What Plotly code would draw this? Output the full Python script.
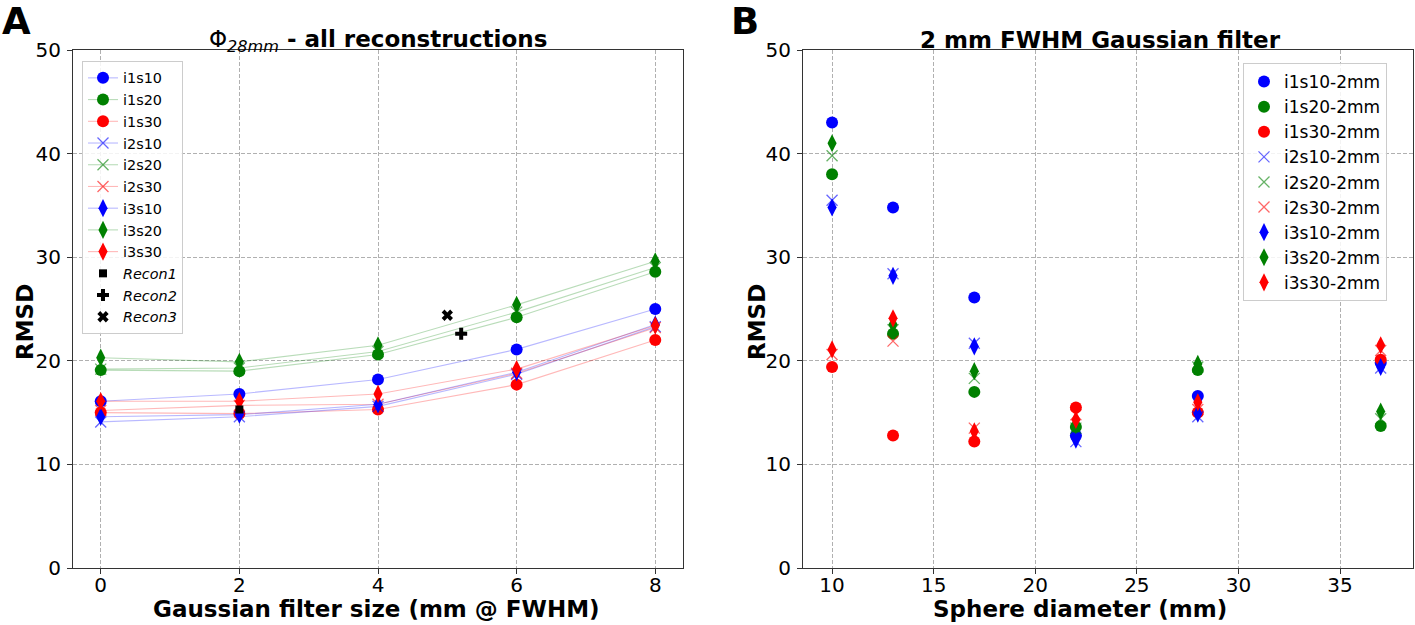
import plotly.graph_objects as go

# ---------------- data: panel A ----------------
filter_sizes = [0, 2, 4, 6, 8]
a_i1s10 = [16.1, 16.8, 18.2, 21.1, 25.0]
a_i1s20 = [19.1, 19.0, 20.6, 24.2, 28.6]
a_i1s30 = [15.0, 14.9, 15.3, 17.7, 22.0]
a_i2s10 = [14.1, 14.6, 15.6, 18.7, 23.3]
a_i2s20 = [19.2, 19.3, 20.9, 24.7, 29.0]
a_i2s30 = [15.2, 15.7, 15.8, 18.8, 23.2]
a_i3s10 = [14.6, 14.8, 15.8, 18.9, 23.5]
a_i3s20 = [20.3, 19.9, 21.5, 25.4, 29.6]
a_i3s30 = [16.1, 16.1, 16.8, 19.2, 23.4]
recon_x = [2.0, 5.2, 5.0]
recon_y = [15.3, 22.6, 24.4]
recon_names = ["Recon1", "Recon2", "Recon3"]

# ---------------- data: panel B ----------------
diameters = [10, 13, 17, 22, 28, 37]
b_i1s10 = [43.0, 34.8, 26.1, 12.8, 16.6, 19.8]
b_i1s20 = [38.0, 22.6, 17.0, 13.6, 19.1, 13.7]
b_i1s30 = [19.4, 12.8, 12.2, 15.5, 15.0, 20.1]
b_i2s10 = [35.5, 28.4, 21.7, 12.2, 14.6, 19.3]
b_i2s20 = [39.8, 23.0, 18.3, 13.5, 19.4, 14.4]
b_i2s30 = [20.6, 21.9, 13.5, 14.8, 15.3, 21.0]
b_i3s10 = [34.8, 28.2, 21.4, 12.4, 14.9, 19.4]
b_i3s20 = [41.0, 23.5, 19.0, 13.8, 19.7, 15.1]
b_i3s30 = [21.1, 24.1, 13.2, 14.3, 16.0, 21.5]

series_names = ["i1s10", "i1s20", "i1s30", "i2s10", "i2s20", "i2s30", "i3s10", "i3s20", "i3s30"]
a_values = [a_i1s10, a_i1s20, a_i1s30, a_i2s10, a_i2s20, a_i2s30, a_i3s10, a_i3s20, a_i3s30]
b_values = [b_i1s10, b_i1s20, b_i1s30, b_i2s10, b_i2s20, b_i2s30, b_i3s10, b_i3s20, b_i3s30]
y_ticks = [0, 10, 20, 30, 40, 50]
x2_ticks = [10, 15, 20, 25, 30, 35]

colors = {"1": (0, 0, 255), "2": (0, 128, 0), "3": (255, 0, 0)}
symbols = {"1": "circle", "2": "x-thin", "3": "diamond-tall"}
msize = {"1": 12, "2": 11, "3": 13}

FONT = "DejaVu Sans"
fig = go.Figure()


def marker_for(name):
    it = name[1]
    r, g, b = colors[name[3]]
    if it == "2":
        col = f"rgba({r},{g},{b},0.6)"
        return dict(symbol=symbols[it], size=msize[it], color=col, line=dict(width=1.3, color=col)), (r, g, b)
    return dict(symbol=symbols[it], size=msize[it], color=f"rgb({r},{g},{b})", line=dict(width=0)), (r, g, b)


for name, vals in zip(series_names, a_values):
    mk, (r, g, b) = marker_for(name)
    fig.add_trace(go.Scatter(x=filter_sizes, y=vals, name=name, mode="lines+markers",
                             line=dict(color=f"rgba({r},{g},{b},0.28)", width=1.1), marker=mk,
                             xaxis="x", yaxis="y", legend="legend"))

recon_symbols = ["square", "cross", "x"]
recon_sizes = [8, 10, 10]
for xv, yv, nm, sy, sz in zip(recon_x, recon_y, recon_names, recon_symbols, recon_sizes):
    fig.add_trace(go.Scatter(x=[xv], y=[yv], name=f"<i>{nm}</i>", mode="markers",
                             marker=dict(symbol=sy, size=sz, color="black", line=dict(width=0)),
                             xaxis="x", yaxis="y", legend="legend"))

for name, vals in zip(series_names, b_values):
    mk, _ = marker_for(name)
    fig.add_trace(go.Scatter(x=diameters, y=vals, name=name + "-2mm", mode="markers",
                             marker=mk, xaxis="x2", yaxis="y2", legend="legend2"))

W, H = 1415, 625


def px_x(p):
    return p / W


def px_y(p):
    return 1 - p / H


axis_common = dict(showline=True, linecolor="#333333", linewidth=1, mirror=True,
                   ticks="outside", ticklen=5, tickcolor="#333333", automargin=False,
                   showgrid=True, gridcolor="#b0b0b0", griddash="4px,2px", gridwidth=1,
                   zeroline=False, tickfont=dict(family=FONT, size=20, color="black"))

PLOT_TOP, PLOT_BOTTOM = 50, 568
L_LEFT, L_RIGHT = 73, 683
R_LEFT, R_RIGHT = 803, 1413

fig.update_layout(
    width=W, height=H, margin=dict(l=0, r=0, t=0, b=0, autoexpand=False),
    paper_bgcolor="white", plot_bgcolor="white",
    font=dict(family=FONT, color="black"),
    xaxis=dict(domain=[px_x(L_LEFT), px_x(L_RIGHT)], range=[-0.4, 8.4], tickvals=filter_sizes,
               anchor="y", ticklabelstandoff=-6, **axis_common),
    yaxis=dict(domain=[px_y(PLOT_BOTTOM), px_y(PLOT_TOP)], range=[0, 50], tickvals=y_ticks,
               anchor="x", ticklabelstandoff=2, **axis_common),
    xaxis2=dict(domain=[px_x(R_LEFT), px_x(R_RIGHT)], range=[8.57, 38.59], tickvals=x2_ticks,
                anchor="y2", ticklabelstandoff=-6, **axis_common),
    yaxis2=dict(domain=[px_y(PLOT_BOTTOM), px_y(PLOT_TOP)], range=[0, 50], tickvals=y_ticks,
                anchor="x2", ticklabelstandoff=2, **axis_common),
    legend=dict(x=px_x(82), y=px_y(61), xanchor="left", yanchor="top",
                bgcolor="rgba(255,255,255,0.85)", bordercolor="#cccccc", borderwidth=1,
                font=dict(family=FONT, size=14.4), tracegroupgap=0, itemsizing="trace"),
    legend2=dict(x=px_x(1243), y=px_y(63), xanchor="left", yanchor="top",
                 bgcolor="rgba(255,255,255,0.85)", bordercolor="#cccccc", borderwidth=1,
                 font=dict(family=FONT, size=17), tracegroupgap=0, itemsizing="trace"),
    showlegend=True,
)


def text_ann(text, x, y, size, xanchor="center", yanchor="middle", angle=0):
    return dict(text=text, x=px_x(x), y=px_y(y), xref="paper", yref="paper",
                xanchor=xanchor, yanchor=yanchor, textangle=angle, showarrow=False,
                font=dict(family=FONT, size=size, color="black"))


annotations = [
    text_ann("<b>A</b>", 0, -2, 37, xanchor="left", yanchor="top"),
    text_ann("<b>B</b>", 729, -2, 37, xanchor="left", yanchor="top"),
    text_ann("Φ<sub><i>28mm</i></sub><b> - all reconstructions</b>", 378, 41, 23),
    text_ann("<b>2 mm FWHM Gaussian filter</b>", 1100, 40, 23),
    text_ann("<b>Gaussian filter size (mm @ FWHM)</b>", 377, 609, 23),
    text_ann("<b>Sphere diameter (mm)</b>", 1080, 609, 23),
    text_ann("<b>RMSD</b>", 25, 322, 23, angle=-90),
    text_ann("<b>RMSD</b>", 757, 322, 23, angle=-90),
]
fig.update_layout(annotations=annotations)

fig.write_html("out.html", config={"displayModeBar": False},
               post_script="document.body.style.margin='0px';document.body.style.padding='0px';")
